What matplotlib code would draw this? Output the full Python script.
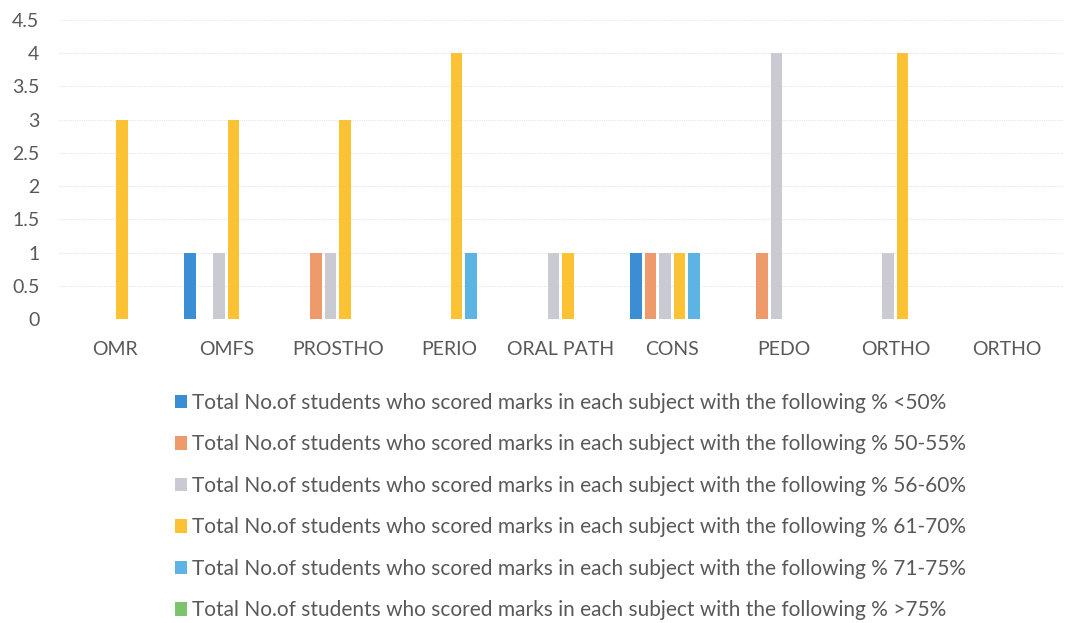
import numpy as np
import matplotlib
matplotlib.use("Agg")
import matplotlib.pyplot as plt

# 科目と各得点帯の人数
subjects = ["OMR", "OMFS", "PROSTHO", "PERIO", "ORAL PATH", "CONS", "PEDO", "ORTHO", "ORTHO"]
prefix = "Total No.of students who scored marks in each subject with the following % "
bands = ["<50%", "50-55%", "56-60%", "61-70%", "71-75%", ">75%"]

below_50 = [0, 1, 0, 0, 0, 1, 0, 0, 0]
p50_55 = [0, 0, 1, 0, 0, 1, 1, 0, 0]
p56_60 = [0, 1, 1, 0, 1, 1, 4, 1, 0]
p61_70 = [3, 3, 3, 4, 1, 1, 0, 4, 0]
p71_75 = [0, 0, 0, 1, 0, 1, 0, 0, 0]
above_75 = [0, 0, 0, 0, 0, 0, 0, 0, 0]

series = [below_50, p50_55, p56_60, p61_70, p71_75, above_75]
colors = ["#3B8ED4", "#EE9A6A", "#CACAD2", "#FBC233", "#5DB3E4", "#7DC36B"]

plt.rcParams["font.family"] = ["Lato", "DejaVu Sans"]
text_color = "#595959"

fig = plt.figure(figsize=(10.78, 6.23), dpi=100)
ax = fig.add_axes([0.0547, 0.488, 0.931, 0.48])

x = np.arange(len(subjects))
slot = 0.13
width = 0.103
handles = []
for i, (vals, c) in enumerate(zip(series, colors)):
    h = ax.bar(x + (i - 2.5) * slot, vals, width=width, color=c, zorder=3)
    handles.append(h)

ax.set_xlim(-0.5, len(subjects) - 0.5)
ax.set_ylim(0, 4.5)
ax.set_yticks(np.arange(0, 4.51, 0.5))
ax.set_yticklabels(["0", "0.5", "1", "1.5", "2", "2.5", "3", "3.5", "4", "4.5"])
ax.set_xticks(x)
ax.set_xticklabels(subjects)
ax.tick_params(axis="both", length=0, labelsize=14, colors=text_color)
ax.tick_params(axis="x", pad=16)
ax.tick_params(axis="y", pad=14)
ax.grid(axis="y", color="#E6E6E6", linewidth=0.8, linestyle=(0, (1, 1)), zorder=0)
for s in ax.spines.values():
    s.set_visible(False)

fig.legend(handles, [prefix + b for b in bands], loc="upper left",
           bbox_to_anchor=(0.153, 0.386), frameon=False, fontsize=15,
           labelcolor=text_color, handlelength=0.55, handleheight=0.6,
           handletextpad=0.25, labelspacing=1.03, borderpad=0)

fig.savefig("out.png", dpi=100)
